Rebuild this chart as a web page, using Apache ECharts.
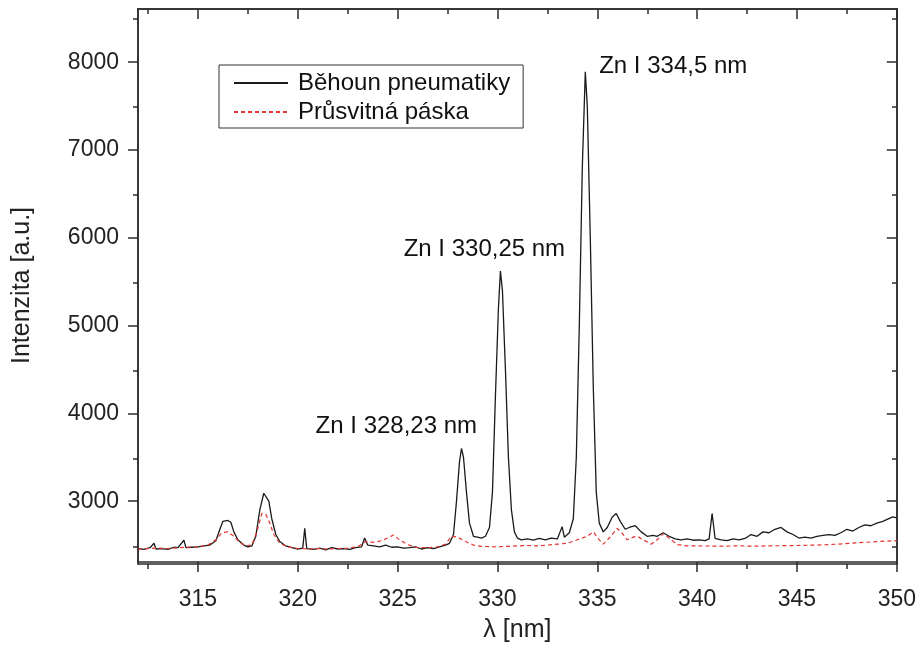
<!DOCTYPE html>
<html>
<head>
<meta charset="utf-8">
<script src="https://cdn.jsdelivr.net/npm/echarts@6/dist/echarts.min.js"></script>
<style>html,body{margin:0;padding:0;background:#fff}#c{width:919px;height:648px}</style>
</head>
<body>
<div id="c"></div>
<script>
const seriesNames = ['Běhoun pneumatiky', 'Průsvitná páska'];

const wlTire = [312.0,312.3,312.6,312.8,312.9,313.2,313.5,313.8,314.0,314.3,314.4,314.7,315.0,315.3,315.6,315.9,316.1,316.25,316.5,316.65,316.8,317.0,317.3,317.5,317.7,317.9,318.1,318.3,318.4,318.55,318.7,318.9,319.1,319.4,319.7,320.0,320.25,320.35,320.45,320.8,321.1,321.4,321.7,322.0,322.3,322.6,322.9,323.2,323.35,323.5,323.8,324.1,324.4,324.7,325.0,325.3,325.6,325.9,326.2,326.5,326.8,327.1,327.4,327.6,327.8,327.95,328.1,328.2,328.3,328.45,328.6,328.8,329.0,329.2,329.4,329.6,329.75,329.9,330.05,330.15,330.25,330.4,330.55,330.7,330.85,331.0,331.2,331.5,331.8,332.1,332.4,332.7,333.0,333.24,333.35,333.6,333.8,333.95,334.1,334.25,334.4,334.5,334.65,334.8,334.95,335.1,335.3,335.5,335.75,335.95,336.15,336.4,336.6,336.9,337.2,337.5,337.8,338.0,338.3,338.6,338.9,339.2,339.5,339.8,340.1,340.4,340.6,340.75,340.9,341.2,341.5,341.8,342.1,342.4,342.7,343.0,343.3,343.6,343.9,344.2,344.5,344.8,345.1,345.4,345.7,346.0,346.3,346.6,346.9,347.2,347.5,347.8,348.1,348.4,348.7,349.0,349.3,349.6,349.8,350.0];
const tire = [2460,2450,2470,2520,2455,2460,2450,2475,2470,2555,2470,2475,2480,2490,2500,2550,2680,2770,2780,2760,2650,2560,2500,2480,2490,2600,2900,3090,3100,3000,2800,2620,2540,2490,2470,2455,2465,2690,2460,2450,2465,2445,2470,2455,2460,2450,2470,2480,2580,2500,2490,2480,2500,2475,2480,2465,2470,2480,2455,2470,2460,2480,2500,2520,2620,3000,3450,3600,3500,3100,2750,2600,2590,2580,2600,2700,3100,4200,5200,5620,5400,4500,3500,2900,2650,2580,2560,2570,2555,2575,2560,2580,2570,2710,2590,2640,2800,3500,5000,6800,7890,7500,6000,4300,3100,2750,2650,2700,2820,2860,2770,2680,2700,2720,2650,2600,2610,2600,2640,2600,2570,2560,2570,2555,2560,2550,2570,2860,2575,2560,2550,2570,2560,2575,2620,2600,2650,2640,2680,2700,2650,2620,2580,2590,2580,2600,2610,2620,2610,2640,2680,2660,2700,2730,2720,2750,2770,2800,2820,2810];

const wlTape = [312.0,312.5,313.0,313.5,314.0,314.5,315.0,315.5,315.9,316.2,316.5,316.8,317.1,317.4,317.7,317.95,318.2,318.4,318.6,318.8,319.1,319.5,320.0,320.5,321.0,321.5,322.0,322.5,323.0,323.4,323.8,324.2,324.5,324.8,325.1,325.5,326.0,326.5,327.0,327.4,327.7,328.0,328.4,328.8,329.2,329.8,330.5,331.0,331.5,332.0,332.5,333.0,333.5,334.0,334.5,334.8,335.1,335.3,335.6,336.0,336.3,336.5,336.8,337.0,337.3,337.7,338.0,338.3,338.6,339.0,339.5,340.0,341.0,342.0,343.0,344.0,345.0,346.0,347.0,348.0,349.0,350.0];
const tape = [2455,2460,2465,2460,2470,2475,2480,2500,2560,2640,2650,2600,2530,2490,2500,2650,2860,2850,2750,2620,2520,2480,2460,2455,2460,2455,2460,2465,2480,2540,2530,2550,2580,2615,2560,2505,2470,2470,2480,2510,2600,2590,2540,2500,2485,2480,2485,2490,2495,2490,2500,2510,2520,2560,2600,2650,2560,2510,2580,2690,2620,2560,2590,2600,2560,2510,2560,2630,2580,2505,2490,2490,2488,2490,2488,2492,2495,2500,2510,2525,2540,2550];

const xMajorTicks = [315,320,325,330,335,340,345,350];
const xMinorTicks = [312.5,317.5,322.5,327.5,332.5,337.5,342.5,347.5];
const yMajorTicks = [3000,4000,5000,6000,7000,8000];
const yMinorTicks = [2500,3500,4500,5500,6500,7500,8500];

const annText = ['Zn I 334,5 nm', 'Zn I 330,25 nm', 'Zn I 328,23 nm'];
const annX = [335.07, 325.28, 320.87];
const annY = [7948, 5871, 3850];

const X_MIN = 312, X_MAX = 350, Y_MIN = 2307, Y_MAX = 8606;
const FONT = '"Liberation Sans", Arial, sans-serif';
const AX = '#2b2b2b';

const gridRect = {left: 138, right: 22, top: 9, bottom: 84};

function xAxisDef(gridIndex, position, ticks, len, inside, withLabels) {
  return {
    type: 'value', gridIndex, position, min: X_MIN, max: X_MAX,
    axisLine: {show: true, lineStyle: {color: AX, width: 1.5}},
    axisTick: {show: true, inside, length: len, customValues: ticks, lineStyle: {color: AX, width: 1.5}},
    axisLabel: withLabels ? {show: true, customValues: xMajorTicks, margin: 26, fontSize: 23, color: '#222', fontFamily: FONT, formatter: v => String(v)} : {show: false},
    splitLine: {show: false}
  };
}
function yAxisDef(gridIndex, position, ticks, len, inside, withLabels) {
  return {
    type: 'value', gridIndex, position, min: Y_MIN, max: Y_MAX,
    axisLine: {show: true, lineStyle: {color: AX, width: 1.5}},
    axisTick: {show: true, inside, length: len, customValues: ticks, lineStyle: {color: AX, width: 1.5}},
    axisLabel: withLabels ? {show: true, customValues: yMajorTicks, margin: 19, fontSize: 23, color: '#222', fontFamily: FONT, formatter: v => String(v)} : {show: false},
    splitLine: {show: false}
  };
}

const xAxes = [
  Object.assign(xAxisDef(0, 'bottom', xMajorTicks, 10, false, true), {
    name: 'λ [nm]', nameLocation: 'middle', nameGap: 56,
    nameTextStyle: {fontSize: 25, color: '#222', fontFamily: FONT}
  }),
  xAxisDef(0, 'top', xMajorTicks, 10, true, false),
  xAxisDef(1, 'bottom', xMinorTicks, 5, false, false),
  xAxisDef(1, 'top', xMinorTicks, 5, true, false)
];
const yAxes = [
  Object.assign(yAxisDef(0, 'left', yMajorTicks, 10, false, true), {
    name: 'Intenzita [a.u.]', nameLocation: 'middle', nameGap: 103,
    nameTextStyle: {fontSize: 25, color: '#222', fontFamily: FONT}
  }),
  yAxisDef(0, 'right', yMajorTicks, 10, true, false),
  yAxisDef(1, 'left', yMinorTicks, 5, false, false),
  yAxisDef(1, 'right', yMinorTicks, 5, true, false)
];

const chart = echarts.init(document.getElementById('c'), null, {renderer: 'canvas'});
chart.setOption({
  animation: false,
  backgroundColor: '#fff',
  grid: [Object.assign({}, gridRect), Object.assign({}, gridRect)],
  xAxis: xAxes,
  yAxis: yAxes,
  legend: {
    orient: 'vertical', left: 219, top: 65,
    padding: [6, 13, 4, 14],
    borderColor: '#333', borderWidth: 1,
    itemWidth: 54, itemHeight: 14, itemGap: 5,
    itemStyle: {opacity: 0},
    textStyle: {fontSize: 24, color: '#111', fontFamily: FONT, padding: [0, 0, 0, 5]},
    data: seriesNames
  },
  series: [
    {
      name: seriesNames[0], type: 'line', xAxisIndex: 0, yAxisIndex: 0,
      data: wlTire.map((w, i) => [w, tire[i]]),
      symbol: 'none', lineStyle: {color: '#1a1a1a', width: 1.3}, itemStyle: {color: '#1a1a1a'},
      z: 3,
      markPoint: {
        symbol: 'circle', symbolSize: 1, itemStyle: {color: 'rgba(0,0,0,0)'},
        label: {show: true, position: 'right', distance: 0, fontSize: 24, color: '#111', fontFamily: FONT},
        data: annText.map((t, i) => ({coord: [annX[i], annY[i]], label: {formatter: t}}))
      }
    },
    {
      name: seriesNames[1], type: 'line', xAxisIndex: 0, yAxisIndex: 0,
      data: wlTape.map((w, i) => [w, tape[i]]),
      symbol: 'none', lineStyle: {color: '#e3342f', width: 1.2, type: [4, 3]}, itemStyle: {color: '#e3342f'},
      z: 4
    }
  ]
});
</script>
</body>
</html>
